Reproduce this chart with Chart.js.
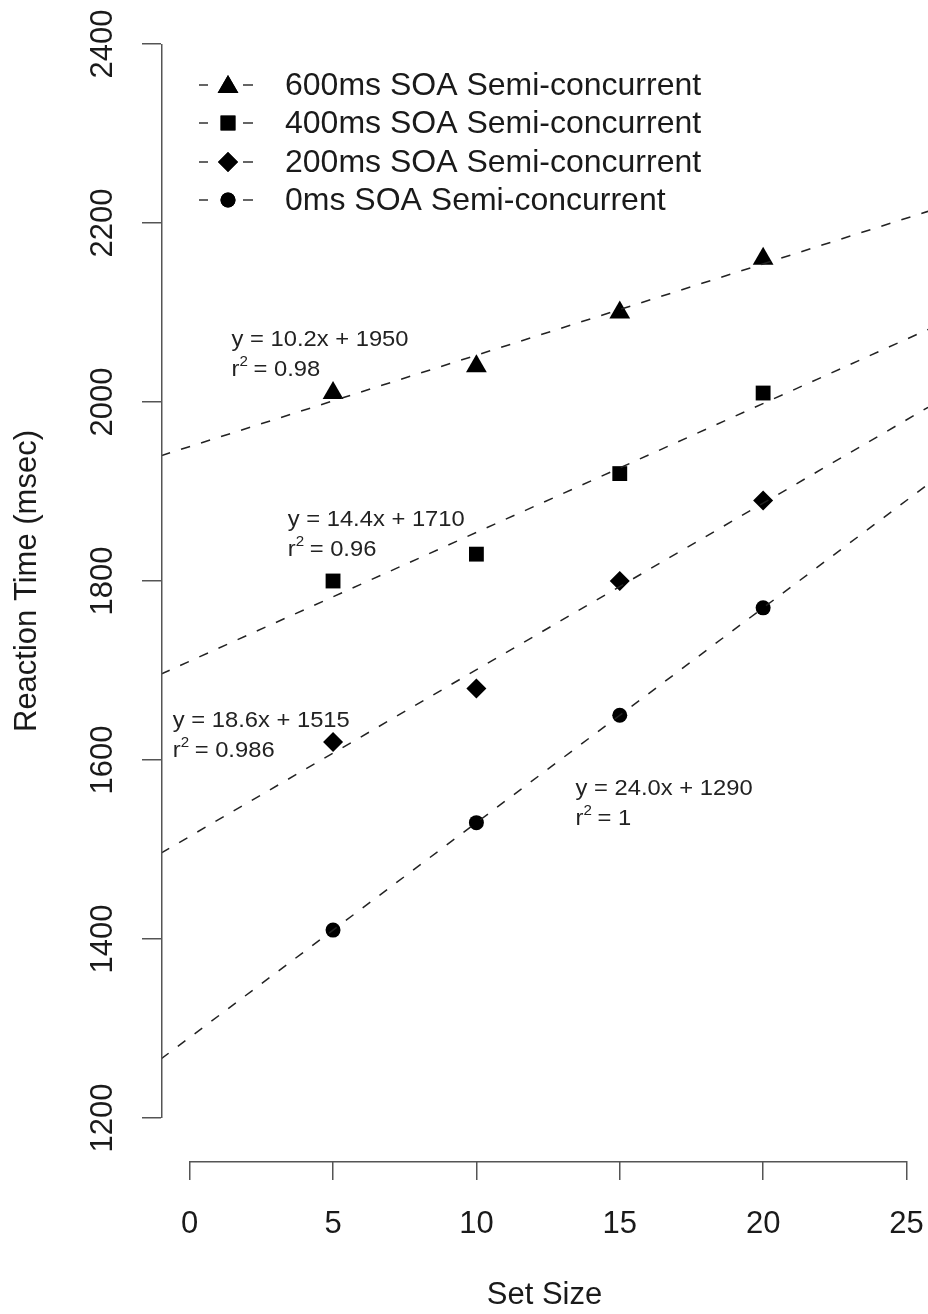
<!DOCTYPE html>
<html>
<head>
<meta charset="utf-8">
<script src="https://cdn.jsdelivr.net/npm/chart.js@4/dist/chart.umd.min.js"></script>
<style>
  html, body { margin: 0; padding: 0; background: #fff; overflow: hidden; }
  canvas { display: block; }
</style>
</head>
<body>
<canvas id="chart" width="928" height="1314"></canvas>
<script>
// set sizes on the x axis
const setSizes = [5, 10, 15, 20];

// mean reaction times (msec)
const rt600 = [2010, 2040, 2100, 2160];
const rt400 = [1800, 1830, 1920, 2010];
const rt200 = [1620, 1680, 1800, 1890];
const rt0 = [1410, 1530, 1650, 1770];

// fitted lines, read where they meet the left axis and the right edge
const fitX = [-1, 25.75];
const fit600 = [1940, 2213];
const fit400 = [1696, 2081];
const fit200 = [1496, 1994];
const fit0 = [1266, 1908];

const seriesNames = [
  '600ms SOA Semi-concurrent',
  '400ms SOA Semi-concurrent',
  '200ms SOA Semi-concurrent',
  '0ms SOA Semi-concurrent'
];
const fitText = ['y = 10.2x + 1950', 'y = 14.4x + 1710', 'y = 18.6x + 1515', 'y = 24.0x + 1290'];
const r2Text = ['0.98', '0.96', '0.986', '1'];

const yTicks = [1200, 1400, 1600, 1800, 2000, 2200, 2400];
const xTicks = [0, 5, 10, 15, 20, 25];

const FONT = '"Liberation Sans", Arial, Helvetica, sans-serif';
const INK = '#1a1a1a';
const AXIS = '#555';

const markers = [
  { style: 'triangle', r: 12 },
  { style: 'rect', r: 10.5 },
  { style: 'rectRot', r: 10 },
  { style: 'circle', r: 7.5 }
];

// where each equation sits, in data units (left edge, middle of first line)
const notePos = [
  { x: 1.46, y: 2071 },
  { x: 3.42, y: 1870 },
  { x: -0.59, y: 1646 },
  { x: 13.46, y: 1570 }
];

const toPoints = function(xs, ys) {
  return xs.map((x, i) => ({ x: x, y: ys[i] }));
};

const pointSets = [rt600, rt400, rt200, rt0];
const fitSets = [fit600, fit400, fit200, fit0];

let datasets = [];
for (let i = 0; i < 4; i++) {
  datasets.push({
    label: 'fit ' + seriesNames[i],
    data: toPoints(fitX, fitSets[i]),
    showLine: true,
    borderColor: '#222',
    borderWidth: 1.5,
    borderDash: [9.5, 11.5],
    pointRadius: 0,
    fill: false
  });
}
for (let i = 0; i < 4; i++) {
  datasets.push({
    label: seriesNames[i],
    data: toPoints(setSizes, pointSets[i]),
    showLine: false,
    pointStyle: markers[i].style,
    pointRadius: markers[i].r,
    pointBackgroundColor: '#000',
    pointBorderColor: '#000',
    pointBorderWidth: 0
  });
}

const drawMarker = function(ctx, style, r, x, y) {
  Chart.helpers.drawPoint(ctx, { pointStyle: style, radius: r, rotation: 0, borderWidth: 0 }, x, y);
  ctx.fill();
};

// text stretched a little sideways, like the original device font
const wideText = function(ctx, text, x, y, sx) {
  ctx.save();
  ctx.translate(x, y);
  ctx.scale(sx, 1);
  ctx.fillText(text, 0, 0);
  ctx.restore();
  return ctx.measureText(text).width * sx;
};

// R style axes, legend and equations
const rDecor = {
  id: 'rDecor',
  afterDraw(chart) {
    const ctx = chart.ctx;
    const xs = chart.scales.x;
    const ys = chart.scales.y;
    const area = chart.chartArea;
    ctx.save();

    // axis lines only span first to last tick
    ctx.strokeStyle = AXIS;
    ctx.lineWidth = 1.5;
    ctx.beginPath();
    ctx.moveTo(area.left + 0.75, ys.getPixelForValue(yTicks[0]));
    ctx.lineTo(area.left + 0.75, ys.getPixelForValue(yTicks[yTicks.length - 1]));
    ctx.moveTo(xs.getPixelForValue(xTicks[0]), area.bottom + 0.75);
    ctx.lineTo(xs.getPixelForValue(xTicks[xTicks.length - 1]), area.bottom + 0.75);
    ctx.stroke();

    // legend
    const rows = [85, 123, 162, 200];
    ctx.font = '32px ' + FONT;
    ctx.textBaseline = 'middle';
    ctx.textAlign = 'left';
    for (let i = 0; i < 4; i++) {
      const y = rows[i];
      ctx.strokeStyle = '#333';
      ctx.lineWidth = 1.4;
      ctx.beginPath();
      ctx.moveTo(199, y); ctx.lineTo(208, y);
      ctx.moveTo(243, y); ctx.lineTo(253, y);
      ctx.stroke();
      ctx.fillStyle = '#000';
      drawMarker(ctx, markers[i].style, markers[i].r, 228, i === 0 ? y + 2 : y);
      ctx.fillStyle = INK;
      ctx.fillText(seriesNames[i], 285, y + 1);
    }

    // regression equations
    const sx = 1.08;
    for (let i = 0; i < 4; i++) {
      const x = xs.getPixelForValue(notePos[i].x);
      const y = ys.getPixelForValue(notePos[i].y);
      ctx.fillStyle = '#222';
      ctx.textBaseline = 'alphabetic';
      ctx.font = '22px ' + FONT;
      wideText(ctx, fitText[i], x, y + 8, sx);
      const y2 = y + 38;
      let w = wideText(ctx, 'r', x, y2, sx);
      ctx.font = '14px ' + FONT;
      w += wideText(ctx, '2', x + w, y2 - 10, sx);
      ctx.font = '22px ' + FONT;
      wideText(ctx, ' = ' + r2Text[i], x + w - 1, y2, sx);
    }
    ctx.restore();
  }
};

const tickFont = { family: FONT, size: 31 };

new Chart(document.getElementById('chart'), {
  type: 'scatter',
  data: { datasets: datasets },
  options: {
    responsive: false,
    animation: false,
    devicePixelRatio: 1,
    layout: { autoPadding: false, padding: { top: 1, left: 0, right: 0, bottom: 0 } },
    plugins: {
      legend: { display: false },
      tooltip: { enabled: false }
    },
    scales: {
      x: {
        type: 'linear',
        min: -1,
        max: 25.75,
        afterBuildTicks: (s) => { s.ticks = xTicks.map(v => ({ value: v })); },
        ticks: { autoSkip: false, maxRotation: 0, padding: 26, font: tickFont, color: INK, callback: (v) => String(v) },
        grid: { drawOnChartArea: false, tickLength: 19, color: AXIS, lineWidth: 1.5 },
        border: { display: false },
        title: { display: true, text: 'Set Size', font: tickFont, color: INK, padding: { top: 0, bottom: 0 } },
        afterFit: (s) => { s.height = 153; s.paddingLeft = 0; s.paddingRight = 0; }
      },
      y: {
        type: 'linear',
        min: 1152,
        max: 2448,
        afterBuildTicks: (s) => { s.ticks = yTicks.map(v => ({ value: v })); },
        ticks: { autoSkip: false, minRotation: 90, maxRotation: 90, crossAlign: 'center', padding: 4, font: tickFont, color: INK, callback: (v) => String(v) },
        grid: { drawOnChartArea: false, tickLength: 19, color: AXIS, lineWidth: 1.5 },
        border: { display: false },
        title: { display: true, text: 'Reaction Time (msec)', font: tickFont, color: INK, padding: { top: 9, bottom: 0 } },
        afterFit: (s) => { s.width = 161; s.paddingTop = 0; s.paddingBottom = 0; }
      }
    }
  },
  plugins: [rDecor]
});
</script>
</body>
</html>
